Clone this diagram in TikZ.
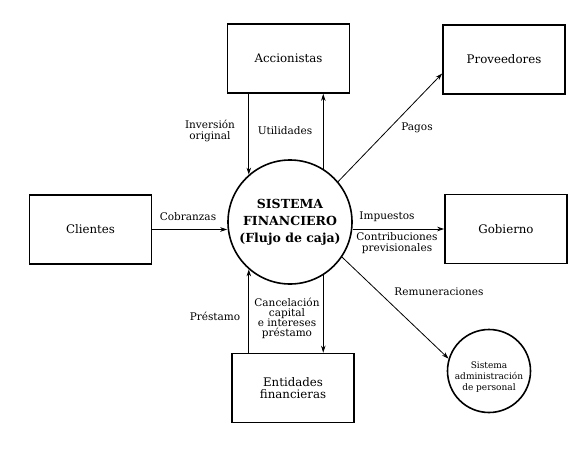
\documentclass[tikz,border=0pt]{standalone}
\usepackage{fontspec}
\setmainfont{DejaVu Serif}
\usetikzlibrary{arrows.meta}
\begin{document}
\begin{tikzpicture}[x=1pt,y=-1pt,
  entity/.style={draw, line width=1.6pt, minimum width=122pt, minimum height=69pt,
    align=center, inner sep=0pt, font=\fontsize{11.8}{12}\selectfont},
  proc/.style={draw, circle, line width=1.6pt, inner sep=0pt, align=center},
  flow/.style={line width=0.8pt, -{Stealth[length=7pt,width=4.5pt]}},
  lbl/.style={font=\fontsize{10.5}{10.5}\selectfont, align=center, inner sep=0pt}]
\useasboundingbox (0,0) rectangle (587,455);

% entities
\node[entity] (acc)  at (288.5,58.5) {Accionistas};
\node[entity] (prov) at (504,59.5)   {Proveedores};
\node[entity] (cli)  at (90.5,229.5) {Clientes};
\node[entity] (gob)  at (506,229)    {Gobierno};
\node[entity] (ent) at (293,388) {Entidades\\financieras};

% processes
\node[proc, minimum size=124pt, font=\bfseries\fontsize{12.5}{17}\selectfont] (sf) at (290,222)
  {SISTEMA\\FINANCIERO\\(Flujo de caja)};
\node[proc, minimum size=83pt] (sap) at (489,371) {};
\node[lbl, font=\fontsize{9}{11}\selectfont] (saptxt) at (489,377)
  {Sistema\\administración\\de personal};

% flows
\draw[flow] (acc.south -| sf.131) -- (sf.131);
\draw[flow] (sf.58) -- (acc.south -| sf.58);
\draw[flow] (sf.40) -- ([yshift=-14pt]prov.west);
\draw[flow] (cli.east) -- (sf.west |- cli.east);
\draw[flow] (sf.east |- gob.west) -- (gob.west);
\draw[flow] (sf.-34) -- (sap.163);
\draw[flow] (ent.north -| sf.229) -- (sf.229);
\draw[flow] (sf.302) -- (ent.north -| sf.302);

% labels
\node[lbl] (linv)  at (210,131)   {Inversión\\original};
\node[lbl] (lutil) at (285,131)   {Utilidades};
\node[lbl] (lpag)  at (417,128)   {Pagos};
\node[lbl] (lcob)  at (188,217)   {Cobranzas};
\node[lbl] (limp)  at (387,217)   {Impuestos};
\node[lbl, font=\fontsize{10.5}{11}\selectfont] (lcon) at (397,243.5) {Contribuciones\\previsionales};
\node[lbl] (lrem)  at (439,292)   {Remuneraciones};
\node[lbl] (lpre)  at (215,316)   {Préstamo};
\node[lbl, font=\fontsize{10.5}{10}\selectfont] (lcan) at (287,318)
  {Cancelación\\capital\\e intereses\\préstamo};
\end{tikzpicture}
\end{document}
